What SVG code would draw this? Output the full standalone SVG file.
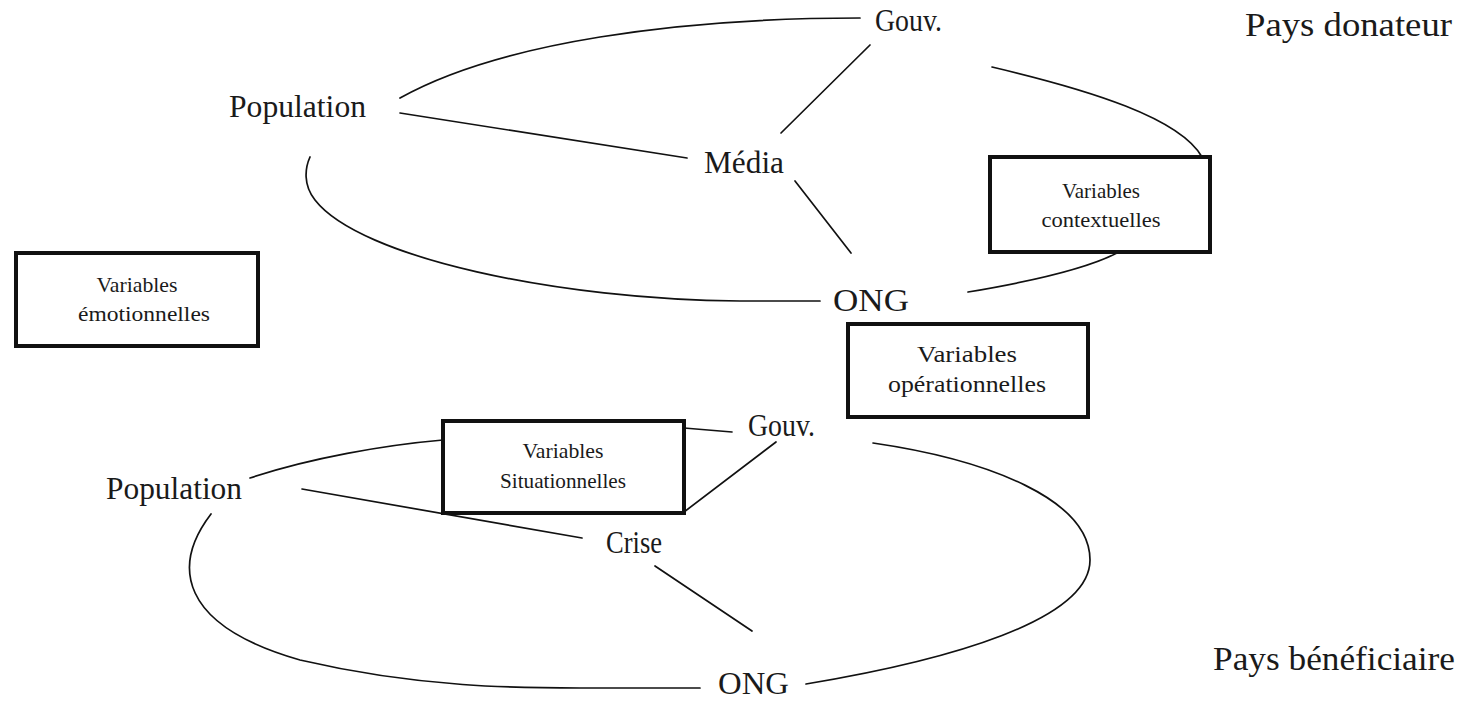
<svg xmlns="http://www.w3.org/2000/svg" width="1473" height="701" viewBox="0 0 1473 701">
  <style>
    .bg { fill: #ffffff; }
    .node { font-family: "Liberation Serif", "Times New Roman", serif; font-size: 31px; fill: #1a1a1a; }
    .region { font-family: "Liberation Serif", "Times New Roman", serif; font-size: 34px; fill: #1a1a1a; }
    .boxtext { font-family: "Liberation Serif", "Times New Roman", serif; font-size: 22px; fill: #1a1a1a; text-anchor: middle; }
    .boxtext.big { font-size: 24px; }
    .box { fill: #ffffff; stroke: #111111; stroke-width: 4; }
    .link { fill: none; stroke: #111111; stroke-width: 1.7; stroke-linecap: round; }
  </style>
  <rect class="bg" x="0" y="0" width="1473" height="701"/>

  <!-- connectors: ring arcs and links between actors -->
  <g id="connectors">
    <!-- donor country ring -->
    <path class="link" d="M400,98 C500,42 680,18 860,18"/>
    <path class="link" d="M992,67 C1090,90 1180,118 1202,157"/>
    <path class="link" d="M1117,253 C1080,272 1010,285 968,292"/>
    <path class="link" d="M820,301 L740,301 C560,300 360,258 315,200 C303,185 305,168 310,157"/>
    <path class="link" d="M400,113 L687,158"/>
    <path class="link" d="M870,45 L781,133"/>
    <path class="link" d="M795,181 L851,253"/>
    <!-- recipient country ring -->
    <path class="link" d="M250,478 C310,458 385,445 443,440"/>
    <path class="link" d="M211,514 C172,565 178,625 300,660 C420,688 520,688 580,688 L700,688"/>
    <path class="link" d="M806,684 C950,660 1090,620 1090,560 C1090,500 990,460 873,443"/>
    <path class="link" d="M302,489 L582,538"/>
    <path class="link" d="M655,566 L752,631"/>
    <path class="link" d="M684,428 L732,432"/>
    <path class="link" d="M776,442 L684,512"/>
  </g>

  <!-- donor country actors -->
  <g id="pop-donor"><text class="node" x="229" y="117" textLength="137" lengthAdjust="spacingAndGlyphs">Population</text></g>
  <g id="gouv-donor"><text class="node" x="875" y="31" textLength="67" lengthAdjust="spacingAndGlyphs">Gouv.</text></g>
  <g id="media"><text class="node" x="704" y="173" textLength="80" lengthAdjust="spacingAndGlyphs">Média</text></g>
  <g id="ong-donor"><text class="node" x="833" y="311" textLength="76" lengthAdjust="spacingAndGlyphs">ONG</text></g>

  <!-- recipient country actors -->
  <g id="pop-recip"><text class="node" x="106" y="499" textLength="136" lengthAdjust="spacingAndGlyphs">Population</text></g>
  <g id="gouv-recip"><text class="node" x="748" y="436" textLength="67" lengthAdjust="spacingAndGlyphs">Gouv.</text></g>
  <g id="crise"><text class="node" x="606" y="553" textLength="56" lengthAdjust="spacingAndGlyphs">Crise</text></g>
  <g id="ong-recip"><text class="node" x="718" y="694" textLength="71" lengthAdjust="spacingAndGlyphs">ONG</text></g>

  <!-- variable boxes -->
  <g id="var-context">
    <rect class="box" x="990" y="157" width="220" height="95"/>
    <text class="boxtext" x="1101" y="198" textLength="78" lengthAdjust="spacingAndGlyphs">Variables</text>
    <text class="boxtext" x="1101" y="227" textLength="119" lengthAdjust="spacingAndGlyphs">contextuelles</text>
  </g>
  <g id="var-emotion">
    <rect class="box" x="16" y="253" width="242" height="93"/>
    <text class="boxtext" x="137" y="292" textLength="81" lengthAdjust="spacingAndGlyphs">Variables</text>
    <text class="boxtext" x="144" y="321" textLength="132" lengthAdjust="spacingAndGlyphs">émotionnelles</text>
  </g>
  <g id="var-operation">
    <rect class="box" x="848" y="324" width="240" height="93"/>
    <text class="boxtext big" x="967" y="362" textLength="100" lengthAdjust="spacingAndGlyphs">Variables</text>
    <text class="boxtext big" x="967" y="392" textLength="158" lengthAdjust="spacingAndGlyphs">opérationnelles</text>
  </g>
  <g id="var-situation">
    <rect class="box" x="443" y="421" width="241" height="92"/>
    <text class="boxtext" x="563" y="458" textLength="81" lengthAdjust="spacingAndGlyphs">Variables</text>
    <text class="boxtext" x="563" y="488" textLength="126" lengthAdjust="spacingAndGlyphs">Situationnelles</text>
  </g>

  <!-- country labels -->
  <g id="label-donor"><text class="region" x="1245" y="36" textLength="207" lengthAdjust="spacingAndGlyphs">Pays donateur</text></g>
  <g id="label-recip"><text class="region" x="1213" y="670" textLength="242" lengthAdjust="spacingAndGlyphs">Pays bénéficiaire</text></g>
</svg>
